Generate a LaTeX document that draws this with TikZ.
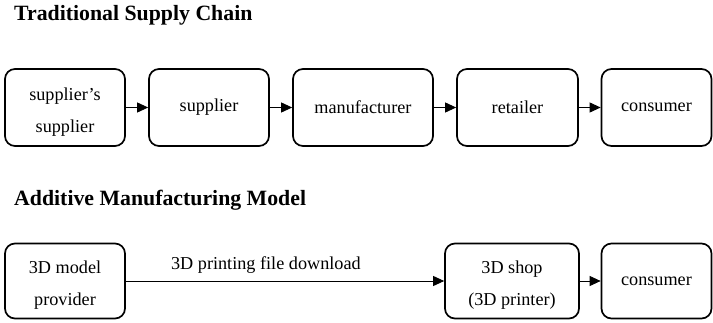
\documentclass[tikz,border=0pt]{standalone}
\usepackage{fontspec}
\setmainfont{Liberation Serif}
\usetikzlibrary{arrows.meta}
\newcommand\lowstrut{\rule{0pt}{21pt}}
\begin{document}
\begin{tikzpicture}[x=1pt,y=-1pt,
  box/.style={draw, line width=1.7pt, rounded corners=10pt, inner sep=0pt,
    align=center, font=\fontsize{18.2}{32}\selectfont},
  title/.style={anchor=base west, inner sep=0pt, font=\fontsize{21.8}{24}\selectfont\bfseries},
  conn/.style={line width=0.9pt, -{Triangle[length=11pt,width=10pt]}}]
\useasboundingbox (0,0) rectangle (713,322);
\node[title] (t1) at (14,20) {Traditional Supply Chain};
\node[title] (t2) at (14,205) {Additive Manufacturing Model};
% row 1
\node[box, minimum width=120pt, minimum height=77pt] (a1) at (65,107.5) {\lowstrut supplier’s\\supplier};
\node[box, minimum width=120pt, minimum height=77pt] (a2) at (209,107.5) {supplier};
\node[box, minimum width=140pt, minimum height=77pt] (a3) at (363,107.5) {manufacturer};
\node[box, minimum width=121pt, minimum height=77pt] (a4) at (517.5,107.5) {retailer};
\node[box, minimum width=110pt, minimum height=77pt] (a5) at (656.5,107.5) {consumer};
\draw[conn] (a1) -- (a2);
\draw[conn] (a2) -- (a3);
\draw[conn] (a3) -- (a4);
\draw[conn] (a4) -- (a5);
% row 2
\node[box, minimum width=120pt, minimum height=75pt] (b1) at (65,281) {\lowstrut 3D model\\provider};
\node[box, minimum width=134pt, minimum height=75pt] (b2) at (512,281) {\lowstrut 3D shop\\(3D printer)};
\node[box, minimum width=110pt, minimum height=75pt] (b3) at (656.5,281) {consumer};
\draw[conn] (b1) -- node[pos=0.44, above=4pt, font=\fontsize{18.2}{22}\selectfont] (lbl) {3D printing file download} (b2);
\draw[conn] (b2) -- (b3);
\end{tikzpicture}
\end{document}
